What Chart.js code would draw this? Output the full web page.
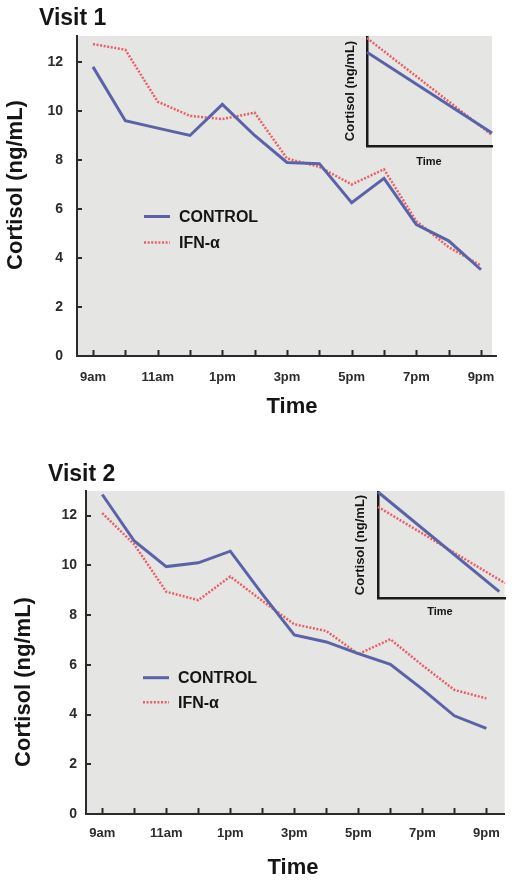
<!DOCTYPE html>
<html>
<head>
<meta charset="utf-8">
<script src="https://cdn.jsdelivr.net/npm/chart.js@4.4.0/dist/chart.umd.min.js"></script>
<style>
  body { margin: 0; background: #fff; }
  #wrap { position: relative; width: 512px; height: 884px; overflow: hidden; }
  canvas { position: absolute; }
</style>
</head>
<body>
<div id="wrap">
  <canvas id="v1" width="512" height="430" style="left:0;top:0"></canvas>
  <canvas id="v1in" width="172" height="150" style="left:340px;top:25px"></canvas>
  <canvas id="v2" width="512" height="444" style="left:0;top:440px"></canvas>
  <canvas id="v2in" width="167" height="145" style="left:345px;top:480px"></canvas>
</div>
<script>
// hours of the day, one sample per hour
const hours = ['9am', '10am', '11am', '12pm', '1pm', '2pm', '3pm', '4pm', '5pm', '6pm', '7pm', '8pm', '9pm'];
const hourTickLabels = ['9am', '', '11am', '', '1pm', '', '3pm', '', '5pm', '', '7pm', '', '9pm'];
const cortisolTicks = [0, 2, 4, 6, 8, 10, 12];

const visit1Control = [11.8, 9.6, 9.3, 9.0, 10.27, 9.0, 7.9, 7.85, 6.26, 7.25, 5.36, 4.7, 3.52];
const visit1Ifn = [12.73, 12.5, 10.38, 9.8, 9.67, 9.93, 8.06, 7.72, 7.0, 7.62, 5.5, 4.44, 3.69];
const visit2Control = [12.85, 10.98, 9.95, 10.1, 10.57, 8.84, 7.2, 6.92, 6.45, 6.02, 5.02, 3.95, 3.44];
const visit2Ifn = [12.1, 10.84, 8.94, 8.6, 9.55, 8.57, 7.63, 7.36, 6.43, 7.03, 5.98, 4.99, 4.65];

// inset trend lines (relative units, start and end)
const inset1ControlX = [0, 1];
const inset1Control = [0.86, 0.12];
const inset1IfnX = [0, 1];
const inset1Ifn = [0.99, 0.10];
const inset2ControlX = [0, 0.955];
const inset2Control = [1.0, 0.06];
const inset2IfnX = [0, 1];
const inset2Ifn = [0.86, 0.14];

const FONT = '"Liberation Sans", Arial, Helvetica, sans-serif';
const BLUE = '#5a63a8';
const RED = '#ea5f66';
const AXIS = '#2a2a2a';

const pts = (xs, ys) => ys.map((v, i) => ({ x: xs[i], y: v }));

const decor = {
  id: 'decor',
  beforeDraw(chart, args, o) {
    if (!o.bg) return;
    const { ctx, chartArea: a } = chart;
    ctx.save();
    ctx.fillStyle = o.bg;
    ctx.fillRect(a.left, a.top, a.right - a.left - (o.bgTrim || 0), a.bottom - a.top);
    ctx.restore();
  },
  afterDraw(chart, args, o) {
    const { ctx } = chart;
    const x = chart.scales.x, y = chart.scales.y;
    ctx.save();
    if (o.tickLen) {
      ctx.strokeStyle = AXIS;
      ctx.lineWidth = 2;
      ctx.beginPath();
      x.ticks.forEach(t => {
        const px = Math.round(x.getPixelForValue(t.value)) + 0.5;
        ctx.moveTo(px, y.bottom);
        ctx.lineTo(px, y.bottom - o.tickLen);
      });
      y.ticks.forEach(t => {
        const py = Math.round(y.getPixelForValue(t.value));
        ctx.moveTo(x.left, py);
        ctx.lineTo(x.left + o.tickLen - 1, py);
      });
      ctx.stroke();
    }
    (o.texts || []).forEach(t => {
      ctx.save();
      ctx.fillStyle = t.color || '#151515';
      ctx.font = 'bold ' + t.size + 'px ' + FONT;
      ctx.textAlign = t.align || 'center';
      ctx.textBaseline = t.baseline || 'middle';
      ctx.translate(t.x, t.y);
      if (t.rotate) ctx.rotate(t.rotate);
      ctx.fillText(t.text, 0, 0);
      ctx.restore();
    });
    if (o.legend) {
      const L = o.legend;
      chart.data.datasets.forEach((ds, i) => {
        const ly = L.y + i * L.gap;
        ctx.strokeStyle = ds.borderColor;
        ctx.lineWidth = ds.borderWidth;
        ctx.setLineDash(ds.borderDash || []);
        ctx.beginPath();
        ctx.moveTo(L.x, ly);
        ctx.lineTo(L.x + L.len, ly);
        ctx.stroke();
        ctx.setLineDash([]);
        ctx.fillStyle = '#151515';
        ctx.font = 'bold ' + L.size + 'px ' + FONT;
        ctx.textAlign = 'left';
        ctx.textBaseline = 'middle';
        ctx.fillText(ds.label, L.textX, ly + 1);
      });
    }
    ctx.restore();
  }
};

function lineSets(cx, cy, ix, iy) {
  return [
    { label: 'CONTROL', data: pts(cx, cy), borderColor: BLUE, borderWidth: 3,
      pointRadius: 0, tension: 0, clip: false },
    { label: 'IFN-\u03b1', data: pts(ix, iy), borderColor: RED, borderWidth: 2.5,
      borderDash: [2, 1.6], pointRadius: 0, tension: 0, clip: false }
  ];
}

function mainChart(id, control, ifn, c) {
  const idx = hours.map((h, i) => i);
  return new Chart(document.getElementById(id), {
    type: 'line',
    data: { datasets: lineSets(idx, control, idx, ifn) },
    options: {
      responsive: false,
      animation: false,
      layout: { padding: { left: 0, top: c.top, right: c.right, bottom: 0 } },
      plugins: {
        legend: { display: false },
        tooltip: { enabled: false },
        decor: { bg: '#e5e5e3', bgTrim: c.bgTrim, tickLen: 6, texts: c.texts, legend: c.legend }
      },
      scales: {
        x: {
          type: 'linear', min: c.xMin, max: c.xMax,
          afterBuildTicks: s => { s.ticks = hours.map((h, i) => ({ value: i })); },
          afterFit: s => { s.height = c.xHeight; },
          grid: { display: false, drawTicks: false },
          border: { display: true, color: AXIS, width: 2 },
          ticks: {
            autoSkip: false, maxRotation: 0, padding: c.xPad, color: '#2b2b2b',
            font: { family: FONT, size: 13, weight: 'bold' },
            callback: (v, i) => hourTickLabels[i]
          }
        },
        y: {
          min: 0, max: c.yMax,
          afterBuildTicks: s => { s.ticks = cortisolTicks.map(v => ({ value: v })); },
          afterFit: s => { s.width = c.yWidth; },
          grid: { display: false, drawTicks: false },
          border: { display: true, color: AXIS, width: 2 },
          ticks: {
            padding: c.yPad, color: '#2b2b2b',
            font: { family: FONT, size: 14, weight: 'bold' }
          }
        }
      }
    },
    plugins: [decor]
  });
}

function insetChart(id, sets, c) {
  return new Chart(document.getElementById(id), {
    type: 'line',
    data: { datasets: sets },
    options: {
      responsive: false,
      animation: false,
      layout: { padding: c.pad },
      plugins: {
        legend: { display: false },
        tooltip: { enabled: false },
        decor: { texts: c.texts }
      },
      scales: {
        x: {
          type: 'linear', min: 0, max: 1,
          afterFit: s => { s.height = 0; },
          grid: { display: false, drawTicks: false },
          border: { display: true, color: '#1a1a1a', width: 2.5 },
          ticks: { display: false }
        },
        y: {
          min: 0, max: 1,
          afterFit: s => { s.width = 0; },
          grid: { display: false, drawTicks: false },
          border: { display: true, color: '#1a1a1a', width: 2.5 },
          ticks: { display: false }
        }
      }
    },
    plugins: [decor]
  });
}

mainChart('v1', visit1Control, visit1Ifn, {
  top: 36, right: 16, xHeight: 74, yWidth: 77, xPad: 14, yPad: 14, bgTrim: 4,
  xMin: -0.495, xMax: 12.464, yMax: 13.06,
  texts: [
    { text: 'Visit 1', x: 39, y: 25, size: 23, align: 'left', baseline: 'alphabetic' },
    { text: 'Cortisol (ng/mL)', x: 16, y: 185, size: 22, rotate: -Math.PI / 2 },
    { text: 'Time', x: 292, y: 407, size: 22 }
  ],
  legend: { x: 144, len: 26, textX: 179, y: 216.5, gap: 26, size: 16 }
});

mainChart('v2', visit2Control, visit2Ifn, {
  top: 51, right: 6, xHeight: 70, yWidth: 86, xPad: 12, yPad: 9, bgTrim: 0,
  xMin: -0.508, xMax: 12.57, yMax: 12.99,
  texts: [
    { text: 'Visit 2', x: 48, y: 41, size: 23, align: 'left', baseline: 'alphabetic' },
    { text: 'Cortisol (ng/mL)', x: 23.5, y: 242, size: 22, rotate: -Math.PI / 2 },
    { text: 'Time', x: 293, y: 428, size: 22 }
  ],
  legend: { x: 143, len: 26, textX: 178, y: 237.7, gap: 24.6, size: 16 }
});

insetChart('v1in', lineSets(inset1ControlX, inset1Control, inset1IfnX, inset1Ifn), {
  pad: { left: 27, top: 12, right: 20, bottom: 29 },
  texts: [
    { text: 'Cortisol (ng/mL)', x: 10, y: 66, size: 13, rotate: -Math.PI / 2 },
    { text: 'Time', x: 89, y: 137, size: 11 }
  ]
});

insetChart('v2in', lineSets(inset2ControlX, inset2Control, inset2IfnX, inset2Ifn), {
  pad: { left: 33, top: 12, right: 7, bottom: 27 },
  texts: [
    { text: 'Cortisol (ng/mL)', x: 15, y: 65, size: 13, rotate: -Math.PI / 2 },
    { text: 'Time', x: 95, y: 132, size: 11 }
  ]
});
</script>
</body>
</html>
